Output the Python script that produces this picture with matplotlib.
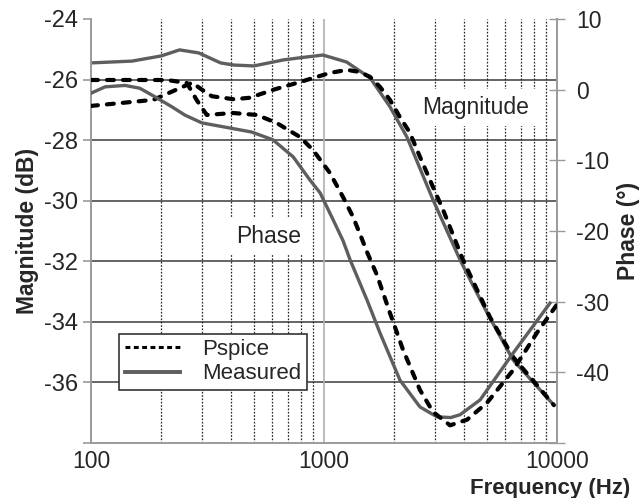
import matplotlib
matplotlib.use("Agg")
import matplotlib.pyplot as plt
from matplotlib.ticker import FixedLocator, NullFormatter, NullLocator
from matplotlib.lines import Line2D

plt.rcParams['font.family'] = ['Liberation Sans', 'DejaVu Sans']
plt.rcParams['lines.scale_dashes'] = False

# Magnitude (dB), left axis
f_mag_meas = [100, 150, 200, 240, 290, 360, 410, 500, 670, 790, 990, 1250, 1580,
              1920, 2270, 2940, 3840, 4230, 5010, 6480, 9520]
mag_meas = [-25.45, -25.39, -25.22, -25.02, -25.12, -25.45, -25.52, -25.55, -25.35,
            -25.28, -25.19, -25.42, -25.95, -26.9, -27.9, -29.98, -31.96, -32.6,
            -33.7, -35.26, -36.68]

f_mag_psp = [100, 185, 241, 272, 295, 330, 410, 480, 604, 789, 933, 1061, 1256,
             1426, 1575, 1738, 1919, 2118, 2339, 2506, 2937, 3243, 3953, 5152,
             6477, 9700]
mag_psp = [-26.87, -26.67, -26.28, -26.1, -26.3, -26.55, -26.65, -26.6, -26.34,
           -26.08, -25.91, -25.78, -25.68, -25.75, -25.91, -26.24, -26.67, -27.24,
           -27.76, -28.32, -29.55, -30.3, -31.96, -33.84, -35.16, -36.75]

# Phase (deg), right axis
f_ph_meas = [100, 115, 140, 162, 188, 223, 253, 299, 376, 490, 604, 737, 871, 962,
             1094, 1208, 1295, 1531, 1738, 2118, 2582, 3055, 3500, 3836, 4677,
             6477, 9333]
ph_meas = [-0.5, 0.4, 0.6, 0.2, -1.0, -2.45, -3.6, -4.7, -5.3, -6.0, -7.1, -9.5,
           -12.8, -14.6, -18.4, -21.4, -24.1, -29.8, -34.4, -41.1, -44.9, -46.3,
           -46.4, -46.0, -43.9, -37.3, -30.2]

f_ph_psp = [100, 212, 258, 284, 314, 407, 516, 627, 789, 897, 1061, 1207, 1332,
            1430, 1531, 1686, 1919, 2183, 2582, 2937, 3476, 4111, 5010, 6477,
            8204, 10000]
ph_psp = [1.37, 1.37, 0.94, -1.46, -3.58, -3.3, -3.58, -4.72, -6.7, -8.54, -11.8,
          -15.2, -18.0, -20.5, -23.0, -26.2, -31.6, -36.8, -42.5, -45.6, -47.5,
          -46.7, -44.3, -39.7, -34.4, -30.4]

mag_ticks = [-38, -36, -34, -32, -30, -28, -26, -24]
mag_labels = ['', '-36', '-34', '-32', '-30', '-28', '-26', '-24']
ph_ticks = [-50, -40, -30, -20, -10, 0, 10]
ph_labels = ['', '-40', '-30', '-20', '-10', '0', '10']
x_ticks = [100, 1000, 10000]
x_minor = [200, 300, 400, 500, 600, 700, 800, 900,
           2000, 3000, 4000, 5000, 6000, 7000, 8000, 9000]

txt = '#262626'
meas_col = '#5e5e5e'
dash_style = dict(color='black', lw=3.0, dashes=(5.0, 6.5), dash_capstyle='round')

fig = plt.figure(figsize=(6.42, 4.98), dpi=100)
ax = fig.add_axes([91/642, 1-443/498, 466/642, 424/498])
ax.set_xscale('log')
ax.set_xlim(100, 10000)
ax.set_ylim(-38, -24)

ax.xaxis.set_major_locator(FixedLocator(x_ticks))
ax.set_xticklabels(['100', '1000', '10000'])
ax.xaxis.set_minor_locator(FixedLocator(x_minor))
ax.xaxis.set_minor_formatter(NullFormatter())
ax.yaxis.set_major_locator(FixedLocator(mag_ticks))
ax.set_yticklabels(mag_labels)
ax.yaxis.set_minor_locator(NullLocator())

# grid
for y in mag_ticks[1:-1]:
    ax.axhline(y, color='#3a3a3a', lw=1.1, zorder=0.5)
for x in x_minor:
    ax.axvline(x, color='#222222', lw=0.9, ls=(0, (1.2, 1.2)), zorder=0.5)
ax.axvline(1000, color='#b0b0b0', lw=1.2, zorder=0.5)

ax.plot(f_mag_meas, mag_meas, color=meas_col, lw=2.4, zorder=2)
ax.plot(f_mag_psp, mag_psp, zorder=3, **dash_style)

for s in ['left', 'bottom']:
    ax.spines[s].set_color('#9a9a9a')
    ax.spines[s].set_linewidth(1.4)
ax.spines['top'].set_visible(False)
ax.spines['right'].set_visible(False)
ax.tick_params(axis='y', which='major', length=6, width=1.2, color='#9a9a9a',
               labelsize=17, labelcolor=txt, pad=3)
ax.tick_params(axis='x', which='both', length=0, labelsize=16.5, labelcolor=txt, pad=5)

ax.set_ylabel('Magnitude (dB)', fontsize=16.5, fontweight='bold', color=txt, labelpad=4)

ax2 = ax.twinx()
ax2.set_ylim(-50, 10)
ax2.yaxis.set_major_locator(FixedLocator(ph_ticks))
ax2.set_yticklabels(ph_labels)
ax2.yaxis.set_minor_locator(NullLocator())
ax2.spines['right'].set_color('#9a9a9a')
ax2.spines['right'].set_linewidth(1.4)
for s in ['left', 'top', 'bottom']:
    ax2.spines[s].set_visible(False)
ax2.tick_params(axis='y', direction='inout', length=11, width=1.0, color='#9a9a9a',
                labelsize=16.5, labelcolor=txt, pad=8)

ax2.plot(f_ph_meas, ph_meas, color=meas_col, lw=2.4, zorder=2)
ax2.plot(f_ph_psp, ph_psp, zorder=3, **dash_style)

ax2.set_ylabel('Phase (°)', fontsize=16.5, fontweight='bold', color=txt, labelpad=6)

box = dict(facecolor='white', edgecolor='none', pad=5)
ax2.text(0.382, 0.488, 'Phase', transform=ax2.transAxes, fontsize=16.5, color=txt,
         ha='center', va='center', bbox=box, zorder=1.5)
ax2.text(0.826, 0.791, 'Magnitude', transform=ax2.transAxes, fontsize=16.5, color=txt,
         ha='center', va='center', bbox=box, zorder=1.5)

handles = [Line2D([], [], color='black', lw=2.2, dashes=(3.5, 2.5)),
           Line2D([], [], color=meas_col, lw=2.8)]
leg = ax2.legend(handles, ['Pspice', 'Measured'], loc='lower left',
                 bbox_to_anchor=(0.06, 0.125), fontsize=16, frameon=True,
                 fancybox=False, framealpha=1, edgecolor='#333333',
                 borderpad=0.25, labelspacing=0.15, handlelength=2.5,
                 handletextpad=1.0, borderaxespad=0)
leg.get_frame().set_linewidth(1.2)
for t in leg.get_texts():
    t.set_color(txt)

fig.text(630/642, 1-488/498, 'Frequency (Hz)', fontsize=16, fontweight='bold',
         color=txt, ha='right', va='center')

fig.savefig('out.png', dpi=100)
